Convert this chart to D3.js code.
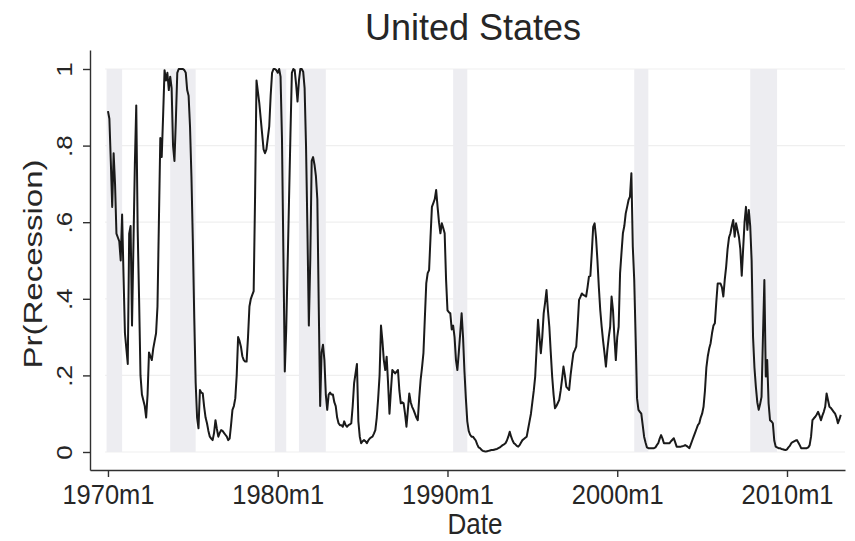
<!DOCTYPE html>
<html>
<head>
<meta charset="utf-8">
<script src="https://cdn.jsdelivr.net/npm/d3@7"></script>
<style>
  html, body { margin: 0; padding: 0; background: #ffffff; }
  svg { display: block; font-family: "Liberation Sans", Arial, Helvetica, sans-serif; }
</style>
</head>
<body>
<svg id="chart" width="855" height="541"></svg>
<script>
// Monthly recession probability, first observation 1970m1, one row per year
const firstMonth = "1970m1";
const prob = [
  0.89, 0.87, 0.76, 0.64, 0.78, 0.70, 0.57, 0.56, 0.55, 0.50, 0.62, 0.46,   // 1970
  0.31, 0.27, 0.23, 0.57, 0.59, 0.33, 0.54, 0.75, 0.905, 0.58, 0.40, 0.20,  // 1971
  0.15, 0.135, 0.12, 0.09, 0.15, 0.26, 0.25, 0.24, 0.27, 0.29, 0.31, 0.38,  // 1972
  0.60, 0.82, 0.77, 0.88, 0.997, 0.97, 0.99, 0.945, 0.98, 0.95, 0.80, 0.76, // 1973
  0.867, 0.99, 1.0, 1.0, 1.0, 1.0, 0.997, 0.99, 0.945, 0.93, 0.85, 0.72,    // 1974
  0.55, 0.35, 0.18, 0.09, 0.062, 0.162, 0.155, 0.153, 0.118, 0.09, 0.075, 0.055, // 1975
  0.04, 0.035, 0.031, 0.05, 0.083, 0.06, 0.04, 0.05, 0.057, 0.055, 0.05, 0.045,  // 1976
  0.04, 0.031, 0.035, 0.07, 0.11, 0.12, 0.14, 0.20, 0.30, 0.29, 0.275, 0.25,     // 1977
  0.24, 0.236, 0.236, 0.30, 0.38, 0.40, 0.41, 0.42, 0.67, 0.97, 0.94, 0.91,      // 1978
  0.87, 0.83, 0.79, 0.78, 0.79, 0.82, 0.85, 0.93, 0.99, 1.0, 1.0, 0.997,         // 1979
  0.99, 1.0, 0.98, 0.82, 0.52, 0.21, 0.32, 0.49, 0.66, 0.83, 0.99, 1.0,          // 1980
  0.997, 0.96, 0.915, 0.97, 1.0, 1.0, 0.993, 0.95, 0.80, 0.58, 0.33, 0.50,       // 1981
  0.76, 0.77, 0.75, 0.72, 0.66, 0.38, 0.12, 0.26, 0.28, 0.24, 0.15, 0.11,        // 1982
  0.15, 0.155, 0.15, 0.15, 0.13, 0.12, 0.09, 0.075, 0.07, 0.07, 0.066, 0.08,     // 1983
  0.07, 0.066, 0.07, 0.072, 0.075, 0.12, 0.18, 0.205, 0.23, 0.08, 0.04, 0.023,   // 1984
  0.028, 0.031, 0.028, 0.023, 0.03, 0.035, 0.038, 0.04, 0.048, 0.057, 0.09, 0.14, // 1985
  0.20, 0.33, 0.29, 0.24, 0.214, 0.249, 0.18, 0.10, 0.16, 0.214, 0.21, 0.205,    // 1986
  0.21, 0.214, 0.16, 0.127, 0.13, 0.127, 0.10, 0.066, 0.11, 0.153, 0.13, 0.118,  // 1987
  0.11, 0.10, 0.09, 0.083, 0.14, 0.188, 0.22, 0.258, 0.35, 0.44, 0.467, 0.475,   // 1988
  0.56, 0.64, 0.65, 0.66, 0.684, 0.64, 0.60, 0.571, 0.597, 0.585, 0.571, 0.45,   // 1989
  0.37, 0.365, 0.362, 0.32, 0.33, 0.30, 0.24, 0.214, 0.26, 0.31, 0.362, 0.30,    // 1990
  0.21, 0.14, 0.08, 0.055, 0.045, 0.04, 0.04, 0.035, 0.03, 0.02, 0.012, 0.01,    // 1991
  0.006, 0.003, 0.002, 0.001, 0.002, 0.003, 0.004, 0.005, 0.005, 0.006, 0.007, 0.008, // 1992
  0.01, 0.012, 0.015, 0.018, 0.02, 0.023, 0.03, 0.04, 0.053, 0.04, 0.03, 0.023,  // 1993
  0.02, 0.016, 0.014, 0.018, 0.025, 0.031, 0.034, 0.037, 0.04, 0.06, 0.08, 0.10, // 1994
  0.13, 0.16, 0.197, 0.27, 0.345, 0.30, 0.258, 0.30, 0.362, 0.39, 0.423, 0.37,   // 1995
  0.327, 0.26, 0.197, 0.15, 0.114, 0.12, 0.128, 0.136, 0.16, 0.19, 0.223, 0.20,  // 1996
  0.17, 0.166, 0.162, 0.20, 0.23, 0.258, 0.266, 0.275, 0.33, 0.397, 0.405, 0.414, // 1997
  0.41, 0.408, 0.406, 0.43, 0.458, 0.46, 0.52, 0.588, 0.597, 0.56, 0.50, 0.43,   // 1998
  0.37, 0.327, 0.29, 0.258, 0.223, 0.266, 0.30, 0.327, 0.406, 0.37, 0.30, 0.24,  // 1999
  0.30, 0.327, 0.467, 0.52, 0.571, 0.59, 0.623, 0.64, 0.658, 0.667, 0.728, 0.536, // 2000
  0.45, 0.30, 0.14, 0.11, 0.105, 0.10, 0.07, 0.04, 0.025, 0.012, 0.01, 0.01,     // 2001
  0.01, 0.01, 0.01, 0.012, 0.018, 0.023, 0.035, 0.044, 0.035, 0.023, 0.023, 0.023, // 2002
  0.023, 0.023, 0.028, 0.032, 0.036, 0.025, 0.014, 0.014, 0.014, 0.014, 0.015, 0.016, // 2003
  0.018, 0.016, 0.013, 0.01, 0.02, 0.03, 0.04, 0.05, 0.06, 0.07, 0.075, 0.09,    // 2004
  0.10, 0.118, 0.16, 0.22, 0.25, 0.27, 0.284, 0.31, 0.33, 0.336, 0.39, 0.44,     // 2005
  0.44, 0.44, 0.43, 0.406, 0.45, 0.484, 0.53, 0.56, 0.571, 0.59, 0.606, 0.562,   // 2006
  0.597, 0.58, 0.562, 0.53, 0.46, 0.53, 0.60, 0.64, 0.58, 0.632, 0.59, 0.50,     // 2007
  0.30, 0.22, 0.17, 0.13, 0.11, 0.125, 0.144, 0.30, 0.449, 0.197, 0.24, 0.127,   // 2008
  0.083, 0.08, 0.075, 0.03, 0.014, 0.012, 0.01, 0.01, 0.008, 0.007, 0.006, 0.005, // 2009
  0.007, 0.012, 0.016, 0.023, 0.026, 0.028, 0.03, 0.031, 0.025, 0.018, 0.01, 0.01, // 2010
  0.01, 0.01, 0.01, 0.012, 0.018, 0.04, 0.083, 0.088, 0.092, 0.098, 0.105, 0.095, // 2011
  0.083, 0.095, 0.105, 0.118, 0.153, 0.135, 0.118, 0.115, 0.11, 0.105, 0.10, 0.09, // 2012
  0.075, 0.085, 0.097                                                             // 2013
];

// Shaded recession periods (first and last month)
const recessionStart = ["1969m12", "1973m9", "1979m11", "1981m4", "1990m5", "2001m1", "2007m11"];
const recessionEnd   = ["1970m11", "1975m3", "1980m7",  "1982m11", "1991m3", "2001m11", "2009m6"];

// Axis ticks
const xTickLabels = ["1970m1", "1980m1", "1990m1", "2000m1", "2010m1"];
const yTickValues = [0, 0.2, 0.4, 0.6, 0.8, 1];
const yTickLabels = ["0", ".2", ".4", ".6", ".8", "1"];

const titleText = "United States";
const xTitle = "Date";
const yTitle = "Pr(Recession)";

// "YYYYmM" -> months since 1970m1
function monthIndex(s) {
  const [yr, mo] = s.split("m").map(Number);
  return (yr - 1970) * 12 + (mo - 1);
}
const offset = monthIndex(firstMonth);

const svg = d3.select("#chart");
const textColor = "#262626";
const axisColor = "#303030";

// Scales: months since 1970m1 on x, probability on y
const x = d3.scaleLinear().domain([-12.7, 521]).range([90, 845]);
const y = d3.scaleLinear().domain([-0.047, 1.0496]).range([470, 50]);

// Horizontal grid lines
svg.append("g")
  .selectAll("line")
  .data(yTickValues)
  .join("line")
  .attr("x1", x(-2)).attr("x2", x(521))
  .attr("y1", d => y(d)).attr("y2", d => y(d))
  .attr("stroke", "#efefef")
  .attr("stroke-width", 1.2);

// Recession shading
svg.append("g")
  .selectAll("rect")
  .data(d3.zip(recessionStart, recessionEnd))
  .join("rect")
  .attr("x", d => x(monthIndex(d[0])))
  .attr("width", d => x(monthIndex(d[1])) - x(monthIndex(d[0])))
  .attr("y", y(1))
  .attr("height", y(0) - y(1))
  .attr("fill", "#ededf1");

// Probability line
const line = d3.line()
  .x((d, i) => x(i + offset))
  .y(d => y(d));

svg.append("path")
  .datum(prob)
  .attr("d", line)
  .attr("fill", "none")
  .attr("stroke", "#1a1a1a")
  .attr("stroke-width", 2)
  .attr("stroke-linejoin", "round");

// Y axis (labels rotated, slightly narrow glyphs)
const yScaleK = 0.85;
const yAxis = svg.append("g")
  .attr("transform", "translate(90,0)")
  .call(d3.axisLeft(y)
    .tickValues(yTickValues)
    .tickFormat((d, i) => yTickLabels[i])
    .tickSizeInner(7)
    .tickSizeOuter(0));
yAxis.select(".domain").attr("stroke", axisColor).attr("stroke-width", 1.4);
yAxis.selectAll(".tick line").attr("stroke", axisColor).attr("stroke-width", 1.4);
yAxis.selectAll(".tick text")
  .attr("transform", `rotate(-90) scale(1,${yScaleK})`)
  .attr("x", 0)
  .attr("y", -18 / yScaleK)
  .attr("dy", 0)
  .attr("text-anchor", "middle")
  .attr("fill", textColor)
  .style("font-size", "26px");

// X axis
const xAxis = svg.append("g")
  .attr("transform", "translate(0,470)")
  .call(d3.axisBottom(x)
    .tickValues(xTickLabels.map(monthIndex))
    .tickFormat((d, i) => xTickLabels[i])
    .tickSizeInner(7)
    .tickSizeOuter(0));
xAxis.select(".domain").attr("stroke", axisColor).attr("stroke-width", 1.4);
xAxis.selectAll(".tick line").attr("stroke", axisColor).attr("stroke-width", 1.4);
xAxis.selectAll(".tick text")
  .attr("y", 14)
  .attr("dy", "0.71em")
  .attr("fill", textColor)
  .attr("textLength", 92)
  .attr("lengthAdjust", "spacingAndGlyphs")
  .style("font-size", "28px");

// Titles
svg.append("text")
  .attr("x", 473).attr("y", 40)
  .attr("text-anchor", "middle")
  .attr("fill", textColor)
  .style("font-size", "36px")
  .text(titleText);

svg.append("text")
  .attr("x", 475).attr("y", 534)
  .attr("text-anchor", "middle")
  .attr("fill", textColor)
  .attr("textLength", 55)
  .attr("lengthAdjust", "spacingAndGlyphs")
  .style("font-size", "29px")
  .text(xTitle);

svg.append("text")
  .attr("transform", "translate(42,264) rotate(-90) scale(1,0.76)")
  .attr("text-anchor", "middle")
  .attr("fill", textColor)
  .style("font-size", "33px")
  .text(yTitle);
</script>
</body>
</html>
